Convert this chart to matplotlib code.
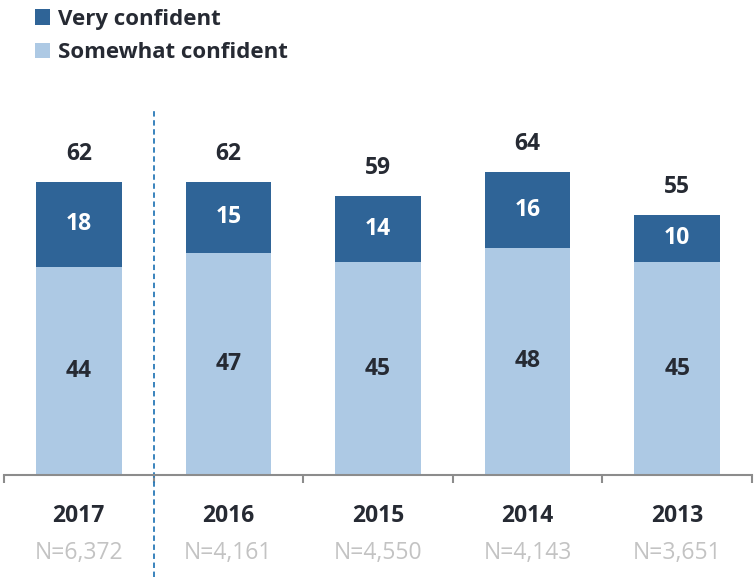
import numpy as np
import matplotlib.pyplot as plt
import matplotlib.transforms as mtransforms

years = ["2017", "2016", "2015", "2014", "2013"]
n_labels = ["N=6,372", "N=4,161", "N=4,550", "N=4,143", "N=3,651"]
somewhat = [44, 47, 45, 48, 45]
very = [18, 15, 14, 16, 10]
totals = [62, 62, 59, 64, 55]

dark = "#2f6497"
light = "#adc9e4"
txt = "#262a33"
plt.rcParams['font.family'] = ['Open Sans', 'DejaVu Sans']

fig = plt.figure(figsize=(7.55, 5.77), dpi=100)
ax = fig.add_axes([4/755, 102/577, 748/755, 365/577])

x = np.arange(len(years))
w = 86/150
b1 = ax.bar(x, somewhat, w, color=light, label="Somewhat confident")
b2 = ax.bar(x, very, w, bottom=somewhat, color=dark, label="Very confident")

fs = 16.5
for i in range(len(x)):
    ax.text(x[i], somewhat[i]/2, str(somewhat[i]), ha='center', va='center',
            fontsize=fs, fontweight='bold', color=txt)
    ax.text(x[i], somewhat[i] + very[i]/2, str(very[i]), ha='center', va='center',
            fontsize=fs, fontweight='bold', color='white')
    ax.text(x[i], totals[i] + 5.9, str(totals[i]), ha='center', va='center',
            fontsize=fs, fontweight='bold', color=txt)

trans = mtransforms.blended_transform_factory(ax.transData, fig.transFigure)
for i in range(len(x)):
    ax.text(x[i], 1 - 516/577, years[i], transform=trans, ha='center', va='center',
            fontsize=fs, fontweight='bold', color=txt)
    ax.text(x[i], 1 - 553/577, n_labels[i], transform=trans, ha='center', va='center',
            fontsize=fs, color="#c3c3c3")

ax.set_xlim(-0.5, 4.5)
ax.set_ylim(0, 365/4.73)
ax.set_yticks([])
ax.set_xticks(np.arange(-0.5, 5, 1))
ax.set_xticklabels([])
ax.tick_params(axis='x', direction='out', length=6, width=1.5, color="#8c8c8c")
for s in ['top', 'right', 'left']:
    ax.spines[s].set_visible(False)
ax.spines['bottom'].set_color("#8c8c8c")
ax.spines['bottom'].set_linewidth(1.5)

ax.axvline(0.5, ymin=-102/365, ymax=1.0, color="#2a7ab8", linestyle=(0, (3, 2)),
           linewidth=1.3, clip_on=False)

leg = fig.legend(handles=[b2, b1], loc='upper left', bbox_to_anchor=(26/755, 1 - 0/577),
                 frameon=False, fontsize=16, handlelength=0.7, handleheight=0.7,
                 handletextpad=0.35, labelspacing=0.55, borderaxespad=0)
for t in leg.get_texts():
    t.set_fontweight('bold')
    t.set_color(txt)

fig.savefig("out.png", dpi=100)
